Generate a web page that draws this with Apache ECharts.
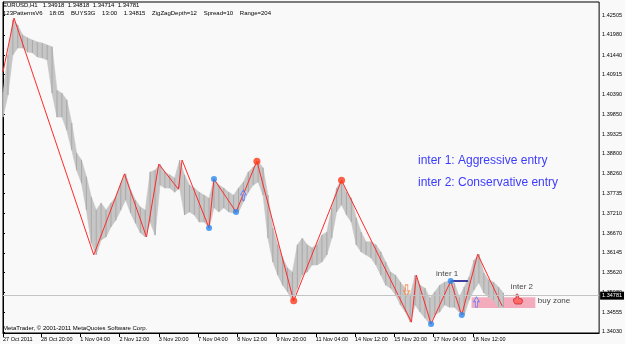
<!DOCTYPE html>
<html>
<head>
<meta charset="utf-8">
<script src="https://cdn.jsdelivr.net/npm/echarts@6/dist/echarts.min.js"></script>
<style>
html, body { margin: 0; padding: 0; background: #f9f9f9; }
#chart { width: 625px; height: 344px; }
</style>
</head>
<body>
<div id="chart"></div>
<script>
// axis ticks (x = hourly bar number from the left edge)
const xTickIdx = [0, 31, 63, 95, 127, 159, 191, 223, 255, 287, 319, 351, 383]
const xTickNames = ['27 Oct 2011', '28 Oct 20:00', '1 Nov 04:00', '2 Nov 12:00', '3 Nov 20:00', '7 Nov 04:00',
	'8 Nov 12:00', '9 Nov 20:00', '11 Nov 04:00', '14 Nov 12:00', '15 Nov 20:00', '17 Nov 04:00', '18 Nov 12:00']
const yTicks = [1.42505, 1.41980, 1.41440, 1.40915, 1.40390, 1.39850, 1.39325, 1.38800, 1.38260,
	1.37735, 1.37210, 1.36670, 1.36145, 1.35620, 1.35080, 1.34555, 1.34030]

// price bars, one column per 4 hourly bars
const colStep = 4
const barHigh = [1.4042, 1.4144, 1.4238, 1.4224, 1.4198, 1.4190, 1.4184, 1.4179, 1.4176, 1.4171,
	1.4166, 1.4050, 1.4042, 1.4024, 1.3962, 1.3882, 1.3863, 1.3818, 1.3764, 1.3729,
	1.3748, 1.3729, 1.3748, 1.3764, 1.3801, 1.3826, 1.3783, 1.3756, 1.3737, 1.3729,
	1.3831, 1.3836, 1.3852, 1.3831, 1.3823, 1.3815, 1.3863, 1.3823, 1.3796, 1.3788,
	1.3777, 1.3769, 1.3761, 1.3812, 1.3796, 1.3788, 1.3777, 1.3769, 1.3788, 1.3804,
	1.3831, 1.3844, 1.3860, 1.3842, 1.3769, 1.3681, 1.3636, 1.3601, 1.3574, 1.3563,
	1.3636, 1.3654, 1.3636, 1.3628, 1.3636, 1.3662, 1.3670, 1.3735, 1.3788, 1.3809,
	1.3777, 1.3761, 1.3708, 1.3670, 1.3644, 1.3644, 1.3636, 1.3617, 1.3590, 1.3563,
	1.3555, 1.3536, 1.3520, 1.3502, 1.3555, 1.3528, 1.3520, 1.3494, 1.3510, 1.3528,
	1.3536, 1.3539, 1.3534, 1.3496, 1.3523, 1.3550, 1.3595, 1.3611, 1.3561, 1.3542,
	1.3536, 1.3523, 1.3507]
const barLow = [1.3978, 1.4037, 1.4144, 1.4163, 1.4163, 1.4152, 1.4150, 1.4139, 1.4136, 1.4131,
	1.4042, 1.3978, 1.3978, 1.3943, 1.3890, 1.3836, 1.3801, 1.3729, 1.3641, 1.3609,
	1.3649, 1.3657, 1.3684, 1.3702, 1.3729, 1.3756, 1.3721, 1.3694, 1.3668, 1.3657,
	1.3697, 1.3662, 1.3796, 1.3788, 1.3788, 1.3777, 1.3788, 1.3716, 1.3724, 1.3716,
	1.3697, 1.3697, 1.3681, 1.3735, 1.3724, 1.3735, 1.3724, 1.3721, 1.3724, 1.3751,
	1.3777, 1.3796, 1.3804, 1.3769, 1.3654, 1.3590, 1.3555, 1.3528, 1.3510, 1.3486,
	1.3520, 1.3555, 1.3563, 1.3582, 1.3582, 1.3590, 1.3609, 1.3654, 1.3724, 1.3743,
	1.3716, 1.3697, 1.3636, 1.3617, 1.3609, 1.3601, 1.3582, 1.3555, 1.3528, 1.3520,
	1.3502, 1.3475, 1.3456, 1.3429, 1.3475, 1.3456, 1.3440, 1.3424, 1.3448, 1.3456,
	1.3475, 1.3469, 1.3469, 1.3456, 1.3448, 1.3488, 1.3515, 1.3534, 1.3507, 1.3496,
	1.3488, 1.3469, 1.3469]

// zigzag
const zzIdx = [0, 9, 74, 99, 117, 127, 143, 146, 168, 172, 190, 207, 237, 276, 333, 337, 349, 365, 374, 387, 407]
const zzPrice = [1.4099, 1.4243, 1.3609, 1.3826, 1.3657, 1.3852, 1.3785, 1.3863, 1.3681, 1.3812, 1.3724,
	1.3860, 1.3486, 1.3809, 1.3429, 1.3555, 1.3424, 1.3539, 1.3448, 1.3611, 1.3472]
const redDotAt = [11, 12, 13]
const blueDotAt = [8, 9, 10, 16, 17, 18]

// annotations
const lastPrice = 1.34781
const inter1Line = [365, 379]
const inter1Price = 1.3539
const buyZone = [382, 434, 1.3467, 1.3496]
const noteText = ['inter 1', 'inter 2', 'buy zone']
const noteIdx = [353, 414, 436]
const notePrice = [1.3558, 1.3523, 1.3487]
const arrowKind = ['down', 'up', 'up', 'hand']
const arrowIdx = [329, 386, 196, 420]
const arrowPrice = [1.3514, 1.3483, 1.3769, 1.3491]

const FONT = 'Liberation Sans, Arial, sans-serif'
const shapes = {
	down: { path: 'path://M3,0 L7,0 L7,7 L10,7 L5,13 L0,7 L3,7 Z', fill: 'rgba(255,255,255,0.6)', line: '#ff7a30', size: [8, 11] },
	up: { path: 'path://M5,0 L10,6 L7,6 L7,13 L3,13 L3,6 L0,6 Z', fill: 'rgba(255,255,255,0.3)', line: '#5577ff', size: [7, 10] },
	hand: { path: 'path://M4,0 C5,0 6,1 6,2 L6,5 L10,6 L11,9 L9,12 L2,12 L0,9 L0,6 L3,5 L3,2 C3,1 3,0 4,0 Z', fill: '#ff5a5a', line: '#d02828', size: [10, 10] }
}

const chart = echarts.init(document.getElementById('chart'))

// band between this column and the next, plus a darker stroke at the column
function renderBar(params, api) {
	const k = params.dataIndex
	const x = api.value(0)
	const top = api.coord([x, api.value(1)])
	const bot = api.coord([x, api.value(2)])
	const children = []
	if (k < barHigh.length - 1) {
		const x2 = x + colStep
		children.push({
			type: 'polygon',
			shape: { points: [top, api.coord([x2, barHigh[k + 1]]), api.coord([x2, barLow[k + 1]]), bot] },
			style: { fill: '#c6c6c6', stroke: '#c6c6c6', lineWidth: 0.6 }
		})
	}
	children.push({
		type: 'line',
		shape: { x1: top[0], y1: top[1], x2: bot[0], y2: bot[1] },
		style: { stroke: '#a9a9a9', lineWidth: 1 }
	})
	return { type: 'group', children }
}

const option = {
	animation: false,
	backgroundColor: '#f9f9f9',
	grid: { left: 2, right: 23, top: 2, bottom: 11, show: true, borderColor: '#000', borderWidth: 1, backgroundColor: '#f9f9f9' },
	xAxis: {
		type: 'value', min: 0, max: 486,
		splitLine: { show: false },
		axisLine: { show: true, onZero: false, lineStyle: { color: '#000', width: 1 } },
		axisTick: { show: true, length: 4, customValues: xTickIdx, lineStyle: { color: '#000' } },
		axisLabel: {
			customValues: xTickIdx, align: 'left', margin: 3, fontSize: 5.5, color: '#000', fontFamily: FONT,
			formatter: v => xTickNames[xTickIdx.indexOf(v)] || ''
		}
	},
	yAxis: {
		type: 'value', position: 'right', min: 1.3400, max: 1.4286,
		splitLine: { show: false },
		axisLine: { show: true, lineStyle: { color: '#000', width: 1 } },
		axisTick: { show: true, length: 2, customValues: yTicks, lineStyle: { color: '#000' } },
		axisLabel: {
			customValues: yTicks, margin: 3, fontSize: 5.5, color: '#000', fontFamily: FONT,
			formatter: v => v.toFixed(5)
		}
	},
	graphic: [
		{ type: 'text', left: 3, top: 2, style: { text: 'EURUSD,H1   1.34918  1.34818  1.34714  1.34781', font: '6px ' + FONT, fill: '#000' } },
		{ type: 'text', left: 3, top: 10, style: { text: '123PatternsV6    18:05    BUYS3G    13:00    1.34815    ZigZagDepth=12    Spread=10    Range=204', font: '6px ' + FONT, fill: '#000' } },
		{ type: 'text', left: 3, top: 325, style: { text: 'MetaTrader, \u00a9 2001-2011 MetaQuotes Software Corp.', font: '6px ' + FONT, fill: '#000' } },
		{ type: 'text', left: 418, top: 155, style: { text: 'inter 1: Aggressive entry', font: '12px ' + FONT, fill: '#3c3cff' } },
		{ type: 'text', left: 418, top: 177, style: { text: 'inter 2: Conservative entry', font: '12px ' + FONT, fill: '#3c3cff' } }
	],
	series: [
		{
			type: 'custom',
			z: 1,
			data: barHigh.map((h, k) => [k * colStep, h, barLow[k]]),
			encode: { x: 0, y: [1, 2] },
			renderItem: renderBar
		},
		{
			type: 'line',
			z: 3,
			data: zzIdx.map((x, i) => [x, zzPrice[i]]),
			symbol: 'none',
			lineStyle: { color: '#ff2a2a', width: 1 },
			markArea: {
				silent: true,
				itemStyle: { color: 'rgba(240,110,140,0.55)' },
				data: [[{ coord: [buyZone[0], buyZone[3]] }, { coord: [buyZone[1], buyZone[2]] }]]
			},
			markLine: {
				silent: true,
				symbol: 'none',
				lineStyle: { color: '#c4c4c4', width: 1, type: 'solid' },
				label: {
					show: true, position: 'end', distance: 1, formatter: lastPrice.toFixed(5),
					backgroundColor: '#000', color: '#fff', fontSize: 5.5, fontFamily: FONT, padding: [1, 2]
				},
				data: [{ yAxis: lastPrice }]
			}
		},
		{
			type: 'line',
			z: 3,
			data: inter1Line.map(x => [x, inter1Price]),
			symbol: 'none',
			lineStyle: { color: '#000080', width: 1.5 }
		},
		{
			type: 'scatter',
			z: 5,
			symbolSize: 7,
			itemStyle: { color: '#ff3a1a' },
			data: redDotAt.map(i => [zzIdx[i], zzPrice[i]])
		},
		{
			type: 'scatter',
			z: 5,
			symbolSize: 6,
			itemStyle: { color: '#2a88f0' },
			data: blueDotAt.map(i => [zzIdx[i], zzPrice[i]])
		},
		{
			type: 'scatter',
			z: 4,
			symbolKeepAspect: true,
			data: arrowKind.map((k, i) => ({
				value: [arrowIdx[i], arrowPrice[i]],
				symbol: shapes[k].path,
				symbolSize: shapes[k].size,
				itemStyle: { color: shapes[k].fill, borderColor: shapes[k].line, borderWidth: 1 }
			}))
		},
		{
			type: 'scatter',
			z: 6,
			symbolSize: 0,
			label: {
				show: true, position: 'inside', align: 'left', verticalAlign: 'middle',
				fontSize: 8, color: '#111', fontFamily: FONT,
				formatter: p => noteText[p.dataIndex]
			},
			data: noteIdx.map((x, i) => [x, notePrice[i]])
		}
	]
}

chart.setOption(option)
</script>
</body>
</html>
